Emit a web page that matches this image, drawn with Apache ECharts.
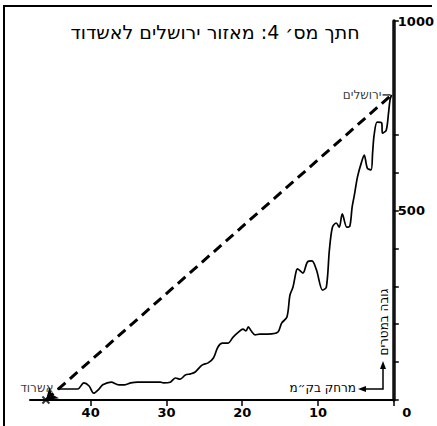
<!DOCTYPE html>
<html>
<head>
<meta charset="utf-8">
<script src="https://cdn.jsdelivr.net/npm/echarts@6/dist/echarts.min.js"></script>
<style>
  html, body { margin: 0; padding: 0; background: #fff; }
  #chart { width: 437px; height: 426px; }
</style>
</head>
<body>
<div id="chart"></div>
<script>
// profile: distance from Jerusalem (km) and height (m)
const profileKm = [44.4, 43.6, 42.6, 41.7, 40.9, 40.2, 39.6, 38.9, 38.4, 37.3, 36.3, 35.5, 34.7, 33.8, 32.5, 30.8,
  30.4, 29.5, 28.8, 28.2, 27.5, 26.8, 26.2, 25.3, 24.5, 23.8, 23.2, 22.6, 21.9, 21.2, 20.5, 19.9, 19.5, 19.2, 18.8,
  18.3, 17.7, 16.6, 15.3, 14.8, 14.1, 13.7, 13.3, 12.9, 12.7, 12.0, 11.4, 10.8, 10.2, 9.4, 8.9, 8.5, 8.1, 7.6, 7.2,
  6.8, 6.2, 5.8, 5.5, 5.2, 4.8, 4.3, 3.9, 3.5, 3.0, 2.8, 2.6, 2.2, 1.6, 1.5, 1.0, 0.7, 0.5, 0.3];
const profileHeight = [29, 29, 29, 29, 45, 37, 18, 29, 40, 47, 40, 40, 45, 47, 47, 47,
  45, 47, 58, 55, 66, 69, 74, 92, 98, 111, 140, 150, 150, 166, 179, 187, 182, 193, 182,
  172, 174, 174, 179, 203, 219, 277, 298, 338, 346, 335, 364, 367, 343, 290, 298, 396, 456, 467, 456,
  491, 456, 459, 509, 541, 588, 625, 646, 612, 607, 652, 699, 733, 731, 704, 712, 757, 792, 805];

// places at both ends of the straight line
const placeNames = ['אשרוד', 'ירושלים'];
const placeKm = [45.9, 0.3];
const placeHeight = [0, 805];

const xTicks = [0, 10, 20, 30, 40];
const yTicks = [0, 100, 200, 300, 400, 500, 600, 700, 1000];
const yLabels = [500, 1000];

const titleText = 'חתך מס׳ 4: מאזור ירושלים לאשדוד';
const heightName = 'גובה במטרים';
const distName = 'מרחק בק״מ';

const hebFont = 'DejaVu Sans';
const numFont = 'DejaVu Sans';

// svg renderer so the browser lays out the hebrew text right-to-left
const chart = echarts.init(document.getElementById('chart'), null, { renderer: 'svg' });

const profileData = profileKm.map((k, i) => [k, profileHeight[i]]);

const placeLabel = { color: '#000', fontFamily: hebFont, fontSize: 12, textBorderWidth: 0 };

chart.setOption({
  animation: false,
  backgroundColor: '#fff',
  grid: { left: 30, right: 43, top: 21, bottom: 26 },
  xAxis: {
    type: 'value',
    inverse: true,
    min: 0,
    max: 48,
    splitLine: { show: false },
    axisLine: { lineStyle: { color: '#000', width: 2 } },
    axisTick: { customValues: xTicks, length: 6, lineStyle: { color: '#000', width: 1.5 } },
    axisLabel: {
      customValues: xTicks,
      margin: 6,
      color: '#000',
      fontFamily: numFont,
      fontWeight: 'bold',
      fontSize: 13,
      formatter: v => (v === 0 ? '{z|0}' : String(v)),
      rich: { z: { padding: [0, 0, 0, 26], fontFamily: numFont, fontWeight: 'bold', fontSize: 13, color: '#000' } }
    }
  },
  yAxis: {
    type: 'value',
    position: 'right',
    min: 0,
    max: 1000,
    splitLine: { show: false },
    axisLine: { show: true, onZero: false, lineStyle: { color: '#111', width: 3.5, opacity: 1 } },
    axisTick: { customValues: yTicks, length: 5, lineStyle: { color: '#000', width: 1.5 } },
    axisLabel: {
      customValues: yLabels,
      margin: 4,
      color: '#000',
      fontFamily: numFont,
      fontWeight: 'bold',
      fontSize: 13,
      formatter: v => String(v)
    }
  },
  series: [
    {
      name: 'profile',
      type: 'line',
      data: profileData,
      showSymbol: false,
      smooth: 0.3,
      lineStyle: { color: '#000', width: 1.7 },
      z: 3
    },
    {
      name: 'route',
      type: 'line',
      data: [],
      markLine: {
        silent: true,
        symbol: ['arrow', 'none'],
        symbolSize: 11,
        label: { show: false },
        lineStyle: { color: '#000', width: 3, type: [10, 6] },
        data: [[
          { coord: [placeKm[0], placeHeight[0]] },
          { coord: [placeKm[1], placeHeight[1]] }
        ]]
      }
    },
    {
      name: 'places',
      type: 'scatter',
      z: 5,
      data: [
        {
          value: [placeKm[0], placeHeight[0]],
          symbol: 'path://M0,0L10,10M10,0L0,10',
          symbolSize: 7,
          itemStyle: { color: 'transparent', borderColor: '#000', borderWidth: 2 },
          label: Object.assign({
            show: true, formatter: placeNames[0], position: [12, -8],
            align: 'right', verticalAlign: 'middle'
          }, placeLabel)
        },
        {
          value: [placeKm[1], placeHeight[1]],
          symbol: 'rect',
          symbolSize: [8, 1.5],
          symbolOffset: [-5, 0],
          itemStyle: { color: '#000' },
          label: Object.assign({ show: true, formatter: placeNames[1], position: 'left', distance: 1 }, placeLabel)
        }
      ]
    }
  ],
  graphic: [
    // frame
    { type: 'line', shape: { x1: 4, y1: 5, x2: 4, y2: 426 }, style: { stroke: '#000', lineWidth: 2 } },
    { type: 'line', shape: { x1: 4, y1: 6, x2: 432, y2: 6 }, style: { stroke: '#000', lineWidth: 2 } },
    // title
    {
      type: 'text', x: 215, y: 32,
      style: { text: titleText, fill: '#000', font: '19px "' + hebFont + '"', align: 'center', verticalAlign: 'middle' }
    },
    // axis names
    {
      type: 'text', x: 384, y: 322, rotation: Math.PI / 2,
      style: { text: heightName, fill: '#000', font: '12px "' + hebFont + '"', align: 'center', verticalAlign: 'middle' }
    },
    {
      type: 'text', x: 356, y: 388,
      style: { text: distName, fill: '#000', font: '12px "' + hebFont + '"', align: 'right', verticalAlign: 'middle' }
    },
    { type: 'polyline', shape: { points: [[383, 366], [383, 389], [364, 389]] }, style: { stroke: '#000', lineWidth: 1.5, fill: null } },
    { type: 'polygon', shape: { points: [[380, 369], [386, 369], [383, 361]] }, style: { fill: '#000' } },
    { type: 'polygon', shape: { points: [[366, 386], [366, 392], [358, 389]] }, style: { fill: '#000' } }
  ]
});
</script>
</body>
</html>
